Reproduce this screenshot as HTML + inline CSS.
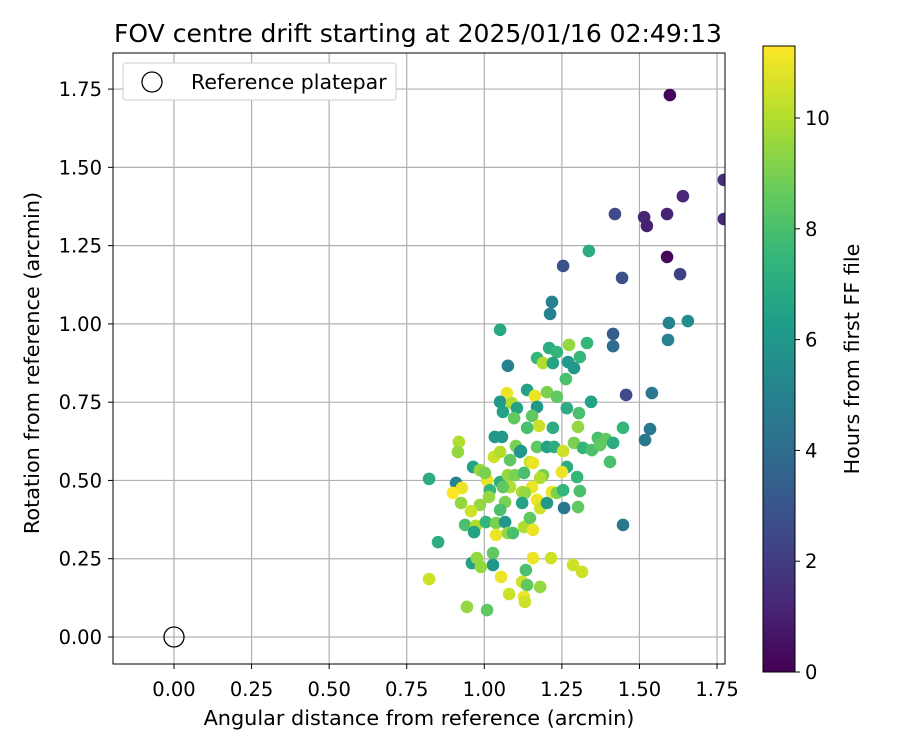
<!DOCTYPE html>
<html><head><meta charset="utf-8"><style>
body{margin:0;background:#fff;}
svg text{font-family:"DejaVu Sans","Liberation Sans",sans-serif;fill:#000;}
</style></head><body>
<svg id="chart" width="900" height="750" xmlns="http://www.w3.org/2000/svg">
<defs><linearGradient id="viridis" x1="0" y1="1" x2="0" y2="0"></linearGradient></defs>
<g id="grid"></g>
<g id="points"></g>
<g id="axes"></g>
<text x="418" y="42" font-size="25" text-anchor="middle">FOV centre drift starting at 2025/01/16 02:49:13</text>
<text x="419" y="725" font-size="20.8" text-anchor="middle">Angular distance from reference (arcmin)</text>
<text transform="translate(39,363) rotate(-90)" font-size="20.8" text-anchor="middle">Rotation from reference (arcmin)</text>
<g>
<rect x="123" y="63" width="273" height="37" rx="3" fill="#fff" stroke="#ccc"/>
<circle cx="152" cy="82" r="10" fill="none" stroke="#000" stroke-width="1.3"/>
<text x="191" y="89" font-size="20.5">Reference platepar</text>
</g>
<g id="cbar"></g>
<text transform="translate(859,359) rotate(-90)" font-size="20.7" text-anchor="middle">Hours from first FF file</text>
</svg>
<script>
const xVals=[1.598,1.772,1.772,1.421,1.515,1.524,1.589,1.640,1.589,1.631,1.254,1.337,1.444,1.218,1.212,1.595,1.656,1.051,1.415,1.415,1.592,1.076,1.457,1.540,1.534,1.518,1.447,1.447,1.257,0.822,0.851,0.822,0.944,1.009,1.209,1.234,1.273,1.331,1.308,1.170,1.189,1.221,1.270,1.289,1.263,1.138,1.073,1.163,1.202,1.234,1.051,1.089,1.105,1.060,1.096,1.170,1.154,1.176,1.138,1.221,1.266,1.305,1.302,1.344,1.034,1.057,1.102,1.118,1.170,1.202,1.225,1.254,1.289,1.318,1.347,1.366,1.373,1.392,1.415,1.405,0.918,0.915,0.964,1.031,1.051,1.083,1.115,1.147,1.157,1.189,1.180,1.266,1.250,1.299,1.308,1.302,1.009,0.986,1.002,0.909,0.928,0.899,0.925,1.051,1.076,1.099,1.128,1.083,1.060,1.018,1.015,1.154,1.122,1.131,1.170,1.180,1.122,1.202,1.218,1.234,1.254,1.067,1.051,0.986,0.957,0.938,0.973,0.967,1.005,1.038,1.067,1.038,1.076,1.092,1.128,1.147,1.157,0.960,0.976,1.028,1.028,0.989,1.157,1.215,1.286,1.315,1.134,1.054,1.122,1.138,1.180,1.080,1.128,1.131];
const yVals=[1.731,1.460,1.335,1.351,1.341,1.313,1.351,1.408,1.214,1.159,1.185,1.233,1.147,1.070,1.032,1.003,1.009,0.981,0.968,0.929,0.949,0.866,0.773,0.779,0.664,0.629,0.668,0.358,0.412,0.505,0.303,0.185,0.096,0.086,0.923,0.910,0.933,0.939,0.894,0.891,0.875,0.875,0.878,0.859,0.824,0.789,0.779,0.770,0.782,0.767,0.751,0.747,0.731,0.719,0.699,0.735,0.706,0.674,0.668,0.668,0.731,0.715,0.671,0.751,0.639,0.639,0.610,0.594,0.607,0.607,0.607,0.594,0.620,0.604,0.597,0.636,0.613,0.632,0.620,0.559,0.623,0.591,0.543,0.575,0.591,0.565,0.591,0.559,0.556,0.517,0.508,0.543,0.527,0.511,0.466,0.415,0.501,0.533,0.524,0.492,0.476,0.460,0.428,0.495,0.517,0.517,0.524,0.479,0.479,0.469,0.447,0.479,0.463,0.460,0.438,0.412,0.428,0.428,0.463,0.460,0.469,0.431,0.406,0.422,0.402,0.358,0.355,0.335,0.367,0.364,0.367,0.326,0.332,0.332,0.351,0.380,0.342,0.236,0.252,0.268,0.230,0.224,0.252,0.252,0.230,0.208,0.214,0.192,0.176,0.166,0.160,0.137,0.128,0.112];
const hours=[0.2,1.5,1.3,2.5,1.2,1.0,1.1,1.3,0.2,2.2,2.8,7.0,2.8,5.0,5.0,5,5.5,6.8,3.3,4,5,5,2.5,4.5,4.5,4.5,7.5,4.5,4.5,7,7,10.5,9.5,8.5,7,7.5,9.5,7.5,7.5,7.5,10,6.5,6,6,8,6.5,11,11,9,8.5,6,10,6.5,6.5,8.5,6,8.5,10.5,8,7,7,8,9.5,6.5,6,6,9,6,8.5,6.5,7,10.5,9,7.5,8,8,8.5,8.5,7,8,10,9.5,6.5,10.5,10,8.5,6,10.5,11,9,10,7,11,7.5,8,8.5,11,9.5,9,5,11,11.3,9.5,7,9.5,9,8,10,8.5,7.5,9.5,11,10,9.5,11,10.5,6.5,6,11,9,7.5,9,8,9.5,10.5,8,10,6.5,7.5,9,6,11,9.5,8,10,8.5,11,6.5,9.5,8.5,6,9.5,11,10.5,10.5,10.5,8,11,10.5,8.5,9.5,10.5,11,10.5];
const xTicks=[0,0.25,0.5,0.75,1,1.25,1.5,1.75];
const yTicks=[0,0.25,0.5,0.75,1,1.25,1.5,1.75];
const cTicks=[0,2,4,6,8,10];
const hMax=11.3;
const NS="http://www.w3.org/2000/svg";
const L=113,R=725,T=53,B=664;
const X=v=>174+v*310.3, Y=v=>637-v*313.1;
const vir=[[68,1,84],[72,40,120],[62,74,137],[49,104,142],[38,130,142],[31,158,137],[53,183,121],[109,205,89],[180,222,44],[253,231,37]];
function cmap(t){t=Math.max(0,Math.min(1,t))*(vir.length-1);const i=Math.min(Math.floor(t),vir.length-2),f=t-i;const c=vir[i].map((a,k)=>Math.round(a+(vir[i+1][k]-a)*f));return `rgb(${c})`;}
function mk(tag,attrs,parent){const e=document.createElementNS(NS,tag);for(const k in attrs)e.setAttribute(k,attrs[k]);parent.appendChild(e);return e;}
const grid=document.getElementById('grid'),axes=document.getElementById('axes'),pts=document.getElementById('points'),cb=document.getElementById('cbar');
xTicks.forEach(v=>{const g=mk('line',{x1:X(v),x2:X(v),y1:T,y2:B,stroke:'#b0b0b0','stroke-width':1.2},grid);

const tk=mk('line',{x1:X(v),x2:X(v),y1:B,y2:B+5,stroke:'#000'},axes);

const t=mk('text',{x:X(v),y:B+32,'font-size':19.5,'text-anchor':'middle'},axes);t.textContent=v.toFixed(2);
});
yTicks.forEach(v=>{const g=mk('line',{x1:L,x2:R,y1:Y(v),y2:Y(v),stroke:'#b0b0b0','stroke-width':1.2},grid);

const tk=mk('line',{x1:L-5,x2:L,y1:Y(v),y2:Y(v),stroke:'#000'},axes);

const t=mk('text',{x:L-11,y:Y(v)+7,'font-size':19.5,'text-anchor':'end'},axes);t.textContent=v.toFixed(2);
});
const clip=mk('clipPath',{id:'pc'},document.querySelector('defs'));mk('rect',{x:L,y:T,width:R-L,height:B-T},clip);
pts.setAttribute('clip-path','url(#pc)');
xVals.forEach((x,i)=>{const c=mk('circle',{cx:X(x),cy:Y(yVals[i]),r:6.3,fill:cmap(hours[i]/hMax)},pts);

});
const ref=mk('circle',{cx:X(0),cy:Y(0),r:10,fill:'none',stroke:'#000','stroke-width':1.3},pts);


const fr=mk('rect',{x:L,y:T,width:R-L,height:B-T,fill:'none',stroke:'#000','stroke-width':1},axes);

const grad=document.getElementById('viridis');
vir.forEach((c,i)=>mk('stop',{offset:i/(vir.length-1),'stop-color':`rgb(${c})`},grad));
const CT=46,CB=672,CL=763,CW=32;
const cbr=mk('rect',{x:CL,y:CT,width:CW,height:CB-CT,fill:'url(#viridis)',stroke:'#000','stroke-width':1},cb);

const CY=v=>CB-v/hMax*(CB-CT);
cTicks.forEach(v=>{const tk=mk('line',{x1:CL+CW,x2:CL+CW+5,y1:CY(v),y2:CY(v),stroke:'#000'},cb);

const t=mk('text',{x:CL+CW+10,y:CY(v)+7,'font-size':19.5},cb);t.textContent=v;
});
</script>
</body></html>
